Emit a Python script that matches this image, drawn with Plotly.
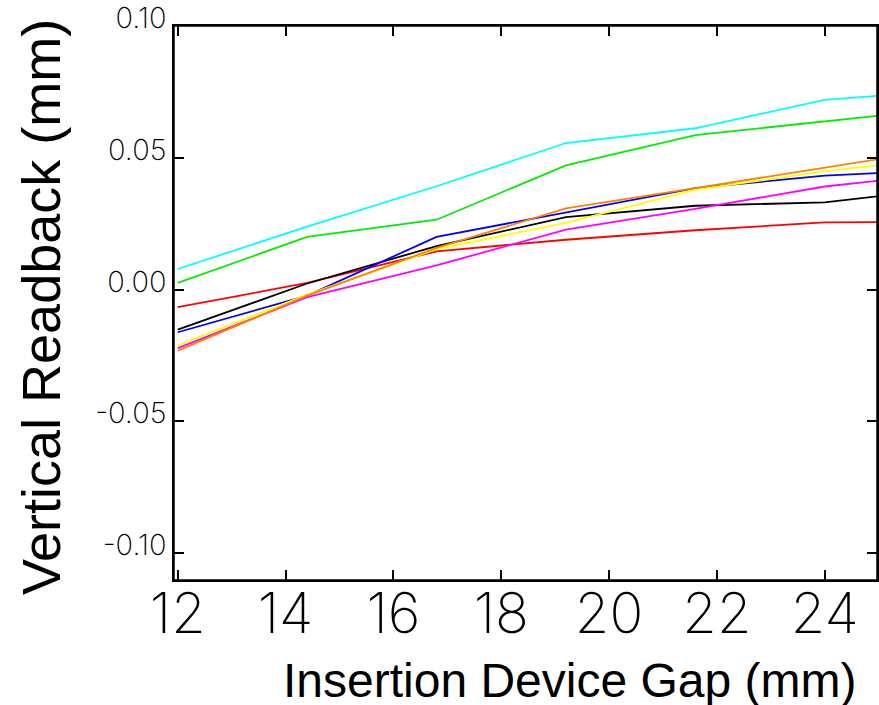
import plotly.graph_objects as go

# Insertion device gap (mm)
gap = [12.0, 14.4, 16.8, 19.2, 21.6, 24.0, 25.0]

# Vertical readback (mm) for each trace
cyan_vals    = [0.0078, 0.0239, 0.0392, 0.0556, 0.0612, 0.0720, 0.0735]
green_vals   = [0.0025, 0.0200, 0.0265, 0.0471, 0.0586, 0.0640, 0.0660]
red_vals     = [-0.0067, 0.0025, 0.0145, 0.0189, 0.0225, 0.0255, 0.0256]
black_vals   = [-0.0152, 0.0023, 0.0165, 0.0275, 0.0318, 0.0331, 0.0354]
blue_vals    = [-0.0162, -0.0023, 0.0200, 0.0293, 0.0385, 0.0432, 0.0442]
yellow_vals  = [-0.0212, -0.0019, 0.0153, 0.0253, 0.0379, 0.0448, 0.0472]
magenta_vals = [-0.0222, -0.0029, 0.0092, 0.0227, 0.0306, 0.0391, 0.0413]
orange_vals  = [-0.0232, -0.0023, 0.0158, 0.0308, 0.0385, 0.0461, 0.0495]

x_tickvals = [12, 14, 16, 18, 20, 22, 24]
x_ticktext = ["12", "14", "16", "18", "20", "22", "24"]
y_tickvals = [-0.10, -0.05, 0.0, 0.05, 0.10]
y_ticktext = ["-0.10", "-0.05", "0.00", "0.05", "0.10"]

series = [
    ("cyan", cyan_vals, "#00FFFF"),
    ("green", green_vals, "#00EE00"),
    ("red", red_vals, "#FF0000"),
    ("black", black_vals, "#000000"),
    ("blue", blue_vals, "#0000FF"),
    ("magenta", magenta_vals, "#FF00FF"),
    ("yellow", yellow_vals, "#FFFF00"),
    ("orange", orange_vals, "#FF8000"),
]

fig = go.Figure()
for name, vals, col in series:
    fig.add_trace(go.Scatter(x=gap, y=vals, mode="lines", name=name,
                             line=dict(color=col, width=1.8)))

# body margin is removed in the page, so figure coordinates = screen coordinates
L, R, T, B = 174, 2, 26, 125
W, H = 879, 705
pw, ph = W - L - R, H - T - B

def px_x(sx):
    return (sx - L) / pw

def px_y(sy):
    return (H - B - sy) / ph

fig.update_layout(
    width=W, height=H,
    margin=dict(l=L, r=R, t=T, b=B, pad=0),
    plot_bgcolor="white", paper_bgcolor="white",
    showlegend=False,
    xaxis=dict(range=[11.93, 24.97], tickvals=x_tickvals, ticktext=x_ticktext,
               ticks="inside", ticklen=10, tickwidth=1.5, tickcolor="black",
               showline=True, linecolor="black", linewidth=1.5, mirror="ticks",
               showgrid=False, zeroline=False, automargin=False,
               ticklabelstandoff=-16, ticklabeloverflow="allow",
               tickfont=dict(family="Inter, DejaVu Sans, sans-serif", size=56,
                             color="black", weight=200)),
    yaxis=dict(range=[-0.1102, 0.10], tickvals=y_tickvals, ticktext=y_ticktext,
               ticks="inside", ticklen=10, tickwidth=1.5, tickcolor="black",
               showline=True, linecolor="black", linewidth=1.5, mirror="ticks",
               showgrid=False, zeroline=False, automargin=False,
               ticklabelshift=-8, ticklabeloverflow="allow",
               tickfont=dict(family="Inter, DejaVu Sans, sans-serif", size=29,
                             color="black", weight=200)),
)

# frame around the plotting area
fig.add_shape(type="rect", xref="paper", yref="paper", x0=0, y0=0, x1=1, y1=1,
              line=dict(color="black", width=1.5), fillcolor="rgba(0,0,0,0)")

fig.add_annotation(text="Insertion Device Gap (mm)", xref="paper", yref="paper",
                   x=px_x(570), y=px_y(680),
                   xanchor="center", yanchor="middle", showarrow=False,
                   font=dict(family="Liberation Sans, Arial, sans-serif", size=48, color="black"))
fig.add_annotation(text="Vertical Readback (mm)", xref="paper", yref="paper",
                   x=px_x(41), y=px_y(307), textangle=-90,
                   xanchor="center", yanchor="middle", showarrow=False,
                   font=dict(family="Liberation Sans, Arial, sans-serif", size=54, color="black"))

fig.write_html("out.html", config={"displayModeBar": False},
               post_script="document.body.style.margin='0';document.body.style.overflow='hidden';")
